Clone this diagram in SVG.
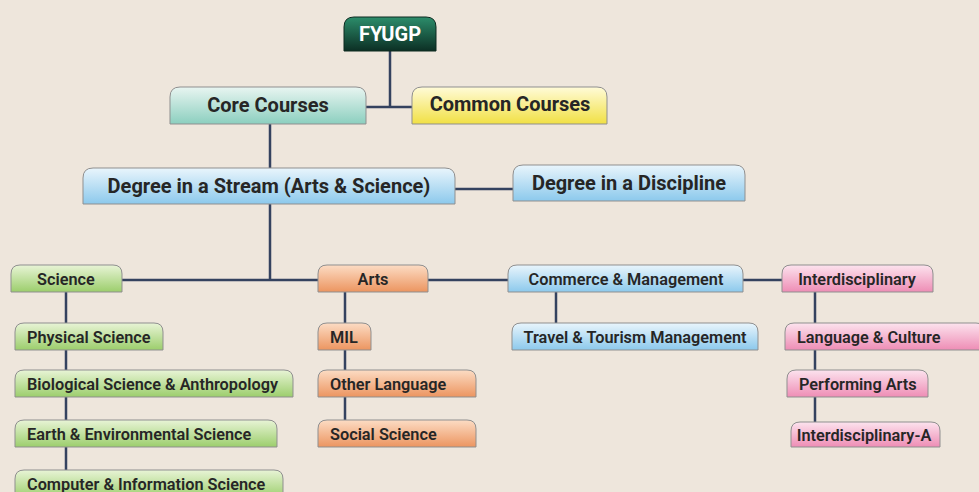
<svg xmlns="http://www.w3.org/2000/svg" width="979" height="492" viewBox="0 0 979 492">
<defs>
<linearGradient id="gDark" x1="0" y1="0" x2="0" y2="1"><stop offset="0" stop-color="#2c8d6b"/><stop offset="1" stop-color="#0c2f24"/></linearGradient>
<linearGradient id="gTeal" x1="0" y1="0" x2="0" y2="1"><stop offset="0" stop-color="#e8f5f1"/><stop offset="1" stop-color="#8ccfbf"/></linearGradient>
<linearGradient id="gYellow" x1="0" y1="0" x2="0" y2="1"><stop offset="0" stop-color="#fffbd8"/><stop offset="1" stop-color="#f1e044"/></linearGradient>
<linearGradient id="gBlue" x1="0" y1="0" x2="0" y2="1"><stop offset="0" stop-color="#e9f5fc"/><stop offset="1" stop-color="#8cc9ec"/></linearGradient>
<linearGradient id="gGreen" x1="0" y1="0" x2="0" y2="1"><stop offset="0" stop-color="#e8f4d6"/><stop offset="1" stop-color="#9cce6c"/></linearGradient>
<linearGradient id="gOrange" x1="0" y1="0" x2="0" y2="1"><stop offset="0" stop-color="#fcdcc4"/><stop offset="1" stop-color="#ec9560"/></linearGradient>
<linearGradient id="gPink" x1="0" y1="0" x2="0" y2="1"><stop offset="0" stop-color="#fce3ee"/><stop offset="1" stop-color="#ee8db5"/></linearGradient>
</defs>
<style>
.bg{fill:#eee6dc}
.c{fill:none;stroke:#34425f;stroke-width:2.5}
.n{stroke:#8f8f8f;stroke-width:1}
.dark{fill:url(#gDark);stroke:#0c2a20}
.teal{fill:url(#gTeal)}
.yellow{fill:url(#gYellow)}
.blue{fill:url(#gBlue)}
.green{fill:url(#gGreen)}
.orange{fill:url(#gOrange)}
.pink{fill:url(#gPink)}
text{font-family:Roboto,"Liberation Sans",sans-serif;fill:#262626;font-weight:700}
.h{font-size:20px;text-anchor:middle}
.m{font-size:16.3px;text-anchor:middle;font-weight:600}
.s{font-size:16.3px;font-weight:600}
.w{fill:#ffffff;font-size:20px;text-anchor:middle}
</style>
<rect class="bg" x="0" y="0" width="979" height="492"/>
<g id="connectors">
<path class="c" d="M390 51V107M366 107H412M270 124V168M455 189H513M270 204V280M122 280H318M428 280H508M743 280H782"/>
<path class="c" d="M66 292V323M66 350V370M66 397V420M66 447V470"/>
<path class="c" d="M345 292V323M345 350V370M345 397V420"/>
<path class="c" d="M556 292V323"/>
<path class="c" d="M815 292V323M815 350V370M815 397V422"/>
</g>
<g id="fyugp"><path class="n dark" d="M344 51V27Q344 17 354 17H426Q436 17 436 27V51Z"/><text class="w" x="390" y="41">FYUGP</text></g>
<g id="core"><path class="n teal" d="M170 124V97Q170 87 180 87H356Q366 87 366 97V124Z"/><text class="h" x="268" y="112">Core Courses</text></g>
<g id="common"><path class="n yellow" d="M412 124V97Q412 87 422 87H597Q607 87 607 97V124Z"/><text class="h" x="510" y="111">Common Courses</text></g>
<g id="stream"><path class="n blue" d="M83 204V178Q83 168 93 168H445Q455 168 455 178V204Z"/><text class="h" x="269" y="193">Degree in a Stream (Arts &amp; Science)</text></g>
<g id="discipline"><path class="n blue" d="M513 201V175Q513 165 523 165H735Q745 165 745 175V201Z"/><text class="h" x="629" y="190">Degree in a Discipline</text></g>
<g id="science"><path class="n green" d="M11 292V274Q11 265 20 265H113Q122 265 122 274V292Z"/><text class="m" x="66" y="284.5">Science</text></g>
<g id="arts"><path class="n orange" d="M318 292V274Q318 265 327 265H419Q428 265 428 274V292Z"/><text class="m" x="373" y="284.5">Arts</text></g>
<g id="commerce"><path class="n blue" d="M508 292V274Q508 265 517 265H734Q743 265 743 274V292Z"/><text class="m" x="626" y="284.5">Commerce &amp; Management</text></g>
<g id="interdisciplinary"><path class="n pink" d="M782 292V274Q782 265 791 265H924Q933 265 933 274V292Z"/><text class="m" x="857" y="284.5">Interdisciplinary</text></g>
<g id="physical"><path class="n green" d="M15 350V332Q15 323 24 323H154Q163 323 163 332V350Z"/><text class="s" x="27" y="342.5">Physical Science</text></g>
<g id="biological"><path class="n green" d="M15 397V379Q15 370 24 370H284Q293 370 293 379V397Z"/><text class="s" x="27" y="389.5">Biological Science &amp; Anthropology</text></g>
<g id="earth"><path class="n green" d="M15 447V429Q15 420 24 420H268Q277 420 277 429V447Z"/><text class="s" x="27" y="439.5">Earth &amp; Environmental Science</text></g>
<g id="computer"><path class="n green" d="M15 498V479Q15 470 24 470H274Q283 470 283 479V498Z"/><text class="s" x="27" y="489.5">Computer &amp; Information Science</text></g>
<g id="mil"><path class="n orange" d="M318 350V332Q318 323 327 323H362Q371 323 371 332V350Z"/><text class="s" x="330" y="342.5">MIL</text></g>
<g id="otherlang"><path class="n orange" d="M318 397V379Q318 370 327 370H467Q476 370 476 379V397Z"/><text class="s" x="330" y="389.5">Other Language</text></g>
<g id="social"><path class="n orange" d="M318 447V429Q318 420 327 420H467Q476 420 476 429V447Z"/><text class="s" x="330" y="439.5">Social Science</text></g>
<g id="travel"><path class="n blue" d="M512 350V332Q512 323 521 323H749Q758 323 758 332V350Z"/><text class="m" x="635" y="342.5">Travel &amp; Tourism Management</text></g>
<g id="langculture"><path class="n pink" d="M785 350V332Q785 323 794 323H976Q985 323 985 332V350Z"/><text class="s" x="797" y="342.5">Language &amp; Culture</text></g>
<g id="performing"><path class="n pink" d="M787 397V379Q787 370 796 370H919Q928 370 928 379V397Z"/><text class="s" x="799" y="389.5">Performing Arts</text></g>
<g id="interA"><path class="n pink" d="M791 447V431Q791 422 800 422H931Q940 422 940 431V447Z"/><text class="m" x="864" y="440.5">Interdisciplinary-A</text></g>
</svg>
